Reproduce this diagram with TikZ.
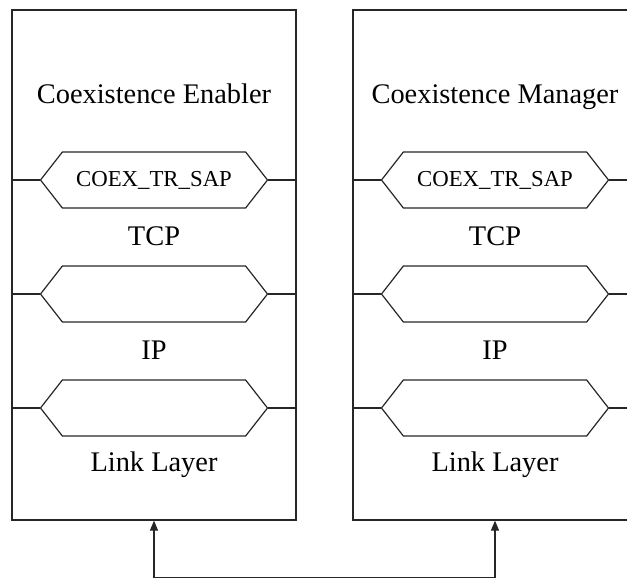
\documentclass[tikz,border=0pt]{standalone}
\usepackage{fontspec}
\setmainfont{Liberation Serif}
\usetikzlibrary{arrows.meta,positioning,shapes.symbols}

\begin{document}
\begin{tikzpicture}[
  x=0.5pt, y=-0.5pt,
  every node/.style={font=\fontsize{14.2}{17}\selectfont, align=center, text height=0.88em, text depth=0.2em},
  box/.style={draw=black!85, line width=0.6pt, minimum width=142pt, minimum height=255pt, inner sep=0pt},
  sap/.style={draw=black!85, line width=0.6pt, shape=signal, signal to=west and east, signal pointer angle=104, minimum width=113.5pt, minimum height=28pt, inner sep=0pt, font=\fontsize{11.4}{13}\selectfont},
  link/.style={draw=black!85, line width=0.6pt},
  arrow/.style={{Triangle[length=5pt,width=4pt]}-{Triangle[length=5pt,width=4pt]}, draw=black!85, line width=0.6pt}
]
  \useasboundingbox (0,0) rectangle (627,579);

  % Nodes
  \node (enabler) [box] at (154,265) {};
  \node (manager) [box] at (495,265) {};

  \node (entitle) at (154,97) {Coexistence Enabler};
  \node (mgtitle) at (495,97) {Coexistence Manager};

  \node (ensap) [sap] at (154,180) {COEX\_TR\_SAP};
  \node (entcp) at (154,239) {TCP};
  \node (enip_sap) [sap] at (154,294) {};
  \node (enip) at (154,353) {IP};
  \node (enll_sap) [sap] at (154,408) {};
  \node (enll) at (154,465) {Link Layer};

  \node (mgsap) [sap] at (495,180) {COEX\_TR\_SAP};
  \node (mgtcp) at (495,239) {TCP};
  \node (mgip_sap) [sap] at (495,294) {};
  \node (mgip) at (495,353) {IP};
  \node (mgll_sap) [sap] at (495,408) {};
  \node (mgll) at (495,465) {Link Layer};

  % Paths
  \draw [link] (enabler.west |- ensap.west) -- (ensap.west);
  \draw [link] (ensap.east) -- (enabler.east |- ensap.east);
  \draw [link] (enabler.west |- enip_sap.west) -- (enip_sap.west);
  \draw [link] (enip_sap.east) -- (enabler.east |- enip_sap.east);
  \draw [link] (enabler.west |- enll_sap.west) -- (enll_sap.west);
  \draw [link] (enll_sap.east) -- (enabler.east |- enll_sap.east);

  \draw [link] (manager.west |- mgsap.west) -- (mgsap.west);
  \draw [link] (mgsap.east) -- (manager.east |- mgsap.east);
  \draw [link] (manager.west |- mgip_sap.west) -- (mgip_sap.west);
  \draw [link] (mgip_sap.east) -- (manager.east |- mgip_sap.east);
  \draw [link] (manager.west |- mgll_sap.west) -- (mgll_sap.west);
  \draw [link] (mgll_sap.east) -- (manager.east |- mgll_sap.east);

  \draw [arrow] (enabler.south) -- ++(0,57) -| (manager.south);
\end{tikzpicture}
\end{document}
